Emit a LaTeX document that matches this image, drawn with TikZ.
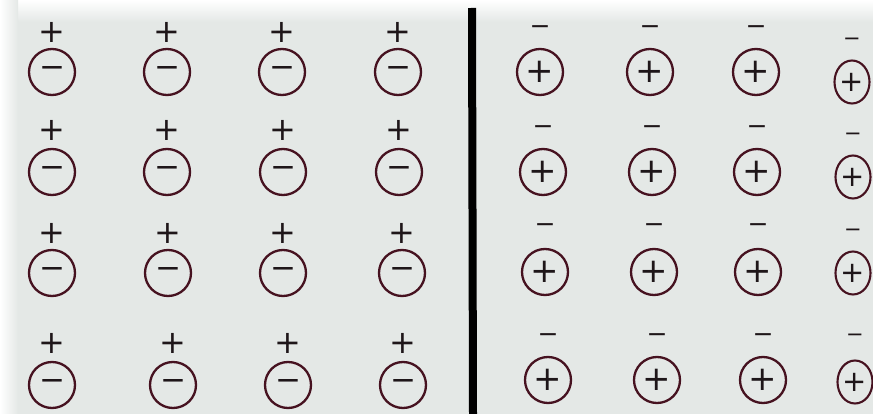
\documentclass[tikz,border=0pt]{standalone}
\usepackage{fontspec}
\newfontfamily\signfont{DejaVu Sans}
\usetikzlibrary{shapes.geometric}
\definecolor{paper}{RGB}{228,232,230}
\definecolor{ring}{RGB}{70,18,32}
\definecolor{ink}{RGB}{30,22,25}
\begin{document}
\begin{tikzpicture}[x=1pt,y=-1pt,
  ion/.style={circle,draw=ring,line width=2.3pt,minimum size=46pt,inner sep=0pt,text=ink},
  ionthin/.style={ellipse,draw=ring,line width=2.1pt,minimum width=35pt,minimum height=43pt,inner sep=0pt,text=ink},
  charge/.style={inner sep=0pt,text=ink},
  wall/.style={line width=8pt,draw=black}]
\useasboundingbox (0,0) rectangle (873,414);
\fill[paper] (0,0) rectangle (873,414);
\shade[top color=white,bottom color=paper] (0,0) rectangle (873,22);
\shade[left color=white,right color=paper] (0,0) rectangle (18,414);
% left block: negative ions, positive charges above
\foreach \r/\sy/\cy/\xa/\xb/\xc/\xd in {1/32/72/52/167/282/398, 2/130/172/52/167/283/399, 3/233/273/52/168/283/402, 4/343/385/52/173/288/403}{
  \foreach \c/\x in {1/\xa,2/\xb,3/\xc,4/\xd}{
    \node[charge,font=\signfont\fontsize{32}{32}\selectfont] (lp-\r-\c) at (\x,\sy) {+};
    \node[ion,font=\signfont\fontsize{31}{31}\selectfont] (l-\r-\c) at (\x,\cy) {−};
  }
}
% right block: positive ions, negative charges above
\foreach \r/\sy/\cy/\xa/\xb/\xc/\xd/\sd/\cd in {1/30/72/540/650/756/852/42/82, 2/130/172/543/652/757/853/137/177, 3/228/272/545/654/758/853/233/273, 4/338/380/548/657/763/855/338/382}{
  \foreach \c/\x in {1/\xa,2/\xb,3/\xc}{
    \node[charge,font=\signfont\fontsize{25}{25}\selectfont] (rm-\r-\c) at (\x,\sy) {−};
    \node[ion,font=\signfont\fontsize{34}{34}\selectfont] (r-\r-\c) at (\x,\cy) {+};
  }
  \node[charge,font=\signfont\fontsize{21}{21}\selectfont] (rm-\r-4) at (\xd,\sd) {−};
  \node[ionthin,font=\signfont\fontsize{29}{29}\selectfont] (r-\r-4) at (\xd,\cd) {+};
}
% dividing wall
\coordinate (wtop) at (472,8);
\coordinate (wbot) at (473,414);
\draw[wall] (wtop) -- (wbot);
\end{tikzpicture}
\end{document}
